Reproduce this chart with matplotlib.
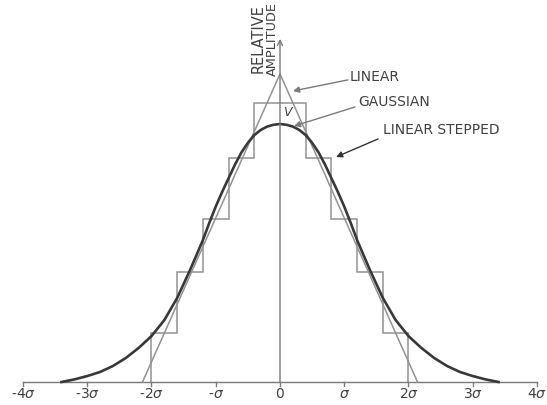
import matplotlib
matplotlib.use('Agg')
import matplotlib.pyplot as plt

plt.rcParams['font.family'] = ['DejaVu Sans']

# Gaussian curve (x in sigma, relative amplitude)
gauss_x = [-3.4, -3.2, -3.0, -2.8, -2.6, -2.4, -2.2, -2.0, -1.8, -1.6, -1.4,
           -1.2, -1.1, -1.0, -0.9, -0.8, -0.7, -0.6, -0.5, -0.4, -0.3, -0.2, -0.1,
           0.0, 0.1, 0.2, 0.3, 0.4, 0.5, 0.6, 0.7, 0.8, 0.9, 1.0, 1.1, 1.2,
           1.4, 1.6, 1.8, 2.0, 2.2, 2.4, 2.6, 2.8, 3.0, 3.2, 3.4]
gauss_y = [0.0, 0.01, 0.023, 0.039, 0.062, 0.093, 0.132, 0.178, 0.24, 0.326, 0.434,
           0.55, 0.617, 0.68, 0.737, 0.79, 0.843, 0.89, 0.927, 0.957, 0.977, 0.99, 0.997,
           1.0, 0.997, 0.99, 0.977, 0.957, 0.927, 0.89, 0.843, 0.79, 0.737, 0.68, 0.617, 0.55,
           0.434, 0.326, 0.24, 0.178, 0.132, 0.093, 0.062, 0.039, 0.023, 0.01, 0.0]

# linear (triangular) shape
linear_x = [-2.14, 0.0, 2.14]
linear_y = [0.0, 1.194, 0.0]

# linear stepped shape
step_edges = [-2.0, -1.6, -1.2, -0.8, -0.4, 0.4, 0.8, 1.2, 1.6, 2.0]
step_levels = [0.19, 0.426, 0.632, 0.868, 1.081, 0.868, 0.632, 0.426, 0.19]

tick_pos = [-4, -3, -2, -1, 0, 1, 2, 3, 4]
tick_labels = [r'-4$\sigma$', r'-3$\sigma$', r'-2$\sigma$', r'-$\sigma$', '0',
               r'$\sigma$', r'2$\sigma$', r'3$\sigma$', r'4$\sigma$']

grey = '#929292'
dark = '#383838'
txt = '#404040'

fig = plt.figure(figsize=(5.47, 4.05), dpi=100)
ax = fig.add_axes([0, 0, 1, 1])
ax.set_xlim(-280 / 64.25, (547 - 280) / 64.25)
ax.set_ylim(-23 / 258, 382 / 258)
ax.axis('off')

# axes
ax.plot([-4, 4], [0, 0], color='#7a7a7a', lw=1.0)
for t in tick_pos:
    ax.plot([t, t], [0, -0.016], color='#7a7a7a', lw=1.0)
ax.annotate('', xy=(0, 1.33), xytext=(0, 0),
            arrowprops=dict(arrowstyle='->', color='#7a7a7a', lw=1.0,
                            mutation_scale=9, shrinkA=0, shrinkB=0))
for t, lab in zip(tick_pos, tick_labels):
    ax.text(t, -0.045, lab, ha='center', va='center', fontsize=10, color=txt)

# curves
ax.stairs(step_levels, step_edges, baseline=0, color=grey, lw=1.1)
ax.plot(linear_x, linear_y, color=grey, lw=1.1)
ax.plot(gauss_x, gauss_y, color=dark, lw=1.9)

# labels
ax.text(-0.342, 1.33, 'RELATIVE', rotation=90, ha='center', va='center',
        fontsize=10.5, color=txt)
ax.text(-0.125, 1.33, 'AMPLITUDE', rotation=90, ha='center', va='center',
        fontsize=9.3, color=txt)
ax.text(0.109, 1.043, 'V', ha='center', va='center', fontsize=9,
        style='italic', color=txt)

ax.text(1.09, 1.182, 'LINEAR', ha='left', va='center', fontsize=10, color=txt)
ax.annotate('', xy=(0.202, 1.128), xytext=(1.058, 1.171),
            arrowprops=dict(arrowstyle='-|>', color='#7a7a7a', lw=1.0,
                            mutation_scale=9, shrinkA=0, shrinkB=0))
ax.text(1.214, 1.085, 'GAUSSIAN', ha='left', va='center', fontsize=10, color=txt)
ax.annotate('', xy=(0.218, 0.992), xytext=(1.167, 1.066),
            arrowprops=dict(arrowstyle='-|>', color='#7a7a7a', lw=1.0,
                            mutation_scale=9, shrinkA=0, shrinkB=0))
ax.text(1.603, 0.977, 'LINEAR STEPPED', ha='left', va='center', fontsize=10, color=txt)
ax.annotate('', xy=(0.872, 0.872), xytext=(1.525, 0.942),
            arrowprops=dict(arrowstyle='-|>', color='#333333', lw=1.0,
                            mutation_scale=9, shrinkA=0, shrinkB=0))

fig.savefig('out.png', dpi=100, facecolor='white')
